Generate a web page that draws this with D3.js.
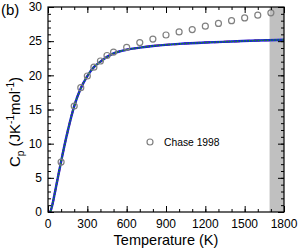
<!DOCTYPE html>
<html>
<head>
<meta charset="utf-8">
<script src="https://cdn.jsdelivr.net/npm/d3@7"></script>
<style>
  body { margin: 0; background: #fff; }
  text { font-family: "Liberation Sans", Arial, sans-serif; fill: #000; }
</style>
</head>
<body>
<svg id="chart" width="300" height="250"></svg>
<script>
// model curve
var modelT  = [0, 15, 30, 50, 75, 100, 150, 200, 250, 300, 350, 400, 450, 500, 600, 700, 800, 1000, 1200, 1400, 1600, 1800];
var modelCp = [0, 0, 0.8, 2.6, 5.0, 7.4, 11.8, 15.5, 18.1, 19.9, 21.2, 22.0, 22.7, 23.2, 23.75, 24.05, 24.3, 24.6, 24.8, 24.95, 25.1, 25.2];

// Chase 1998 points
var chaseT  = [100, 200, 250, 300, 350, 400, 450, 500, 600, 700, 800, 900, 1000, 1100, 1200, 1300, 1400, 1500, 1600, 1700];
var chaseCp = [7.3, 15.5, 18.2, 19.9, 21.2, 22.1, 22.9, 23.4, 24.1, 24.8, 25.3, 25.9, 26.35, 26.7, 27.2, 27.6, 28.0, 28.4, 28.8, 29.15];

var xTicks = [0, 300, 600, 900, 1200, 1500, 1800];
var yTicks = [0, 5, 10, 15, 20, 25, 30];
var band = [1690, 1800];

var svg = d3.select("#chart");
var m = {left: 48, right: 284, top: 7, bottom: 212};

var x = d3.scaleLinear().domain([0, 1800]).range([m.left, m.right]);
var y = d3.scaleLinear().domain([0, 30]).range([m.bottom, m.top]);

// grey band
svg.append("rect")
  .attr("x", x(band[0])).attr("y", m.top)
  .attr("width", x(band[1]) - x(band[0]))
  .attr("height", m.bottom - m.top)
  .attr("fill", "#c0c0c0");

svg.append("clipPath").attr("id", "clip")
  .append("rect").attr("x", m.left).attr("y", m.top)
  .attr("width", m.right - m.left).attr("height", m.bottom - m.top);

var pts = modelT.map(function (t, i) { return [t, modelCp[i]]; });
var line = d3.line()
  .x(function (d) { return x(d[0]); })
  .y(function (d) { return y(d[1]); })
  .curve(d3.curveMonotoneX);

var g = svg.append("g").attr("clip-path", "url(#clip)");
g.append("path").datum(pts).attr("d", line)
  .attr("fill", "none").attr("stroke", "#e03030").attr("stroke-width", 2).attr("stroke-dasharray", "6,4");
g.append("path").datum(pts).attr("d", line)
  .attr("fill", "none").attr("stroke", "#1a1adc").attr("stroke-width", 2.4);
g.append("path").datum(pts).attr("d", line)
  .attr("fill", "none").attr("stroke", "#1e9a1e").attr("stroke-width", 1.4).attr("stroke-dasharray", "1.5,1.5");

// Chase circles
svg.selectAll("circle.chase").data(chaseT).enter().append("circle")
  .attr("class", "chase")
  .attr("cx", function (d) { return x(d); })
  .attr("cy", function (d, i) { return y(chaseCp[i]); })
  .attr("r", 3)
  .attr("fill", "none").attr("stroke", "#808080").attr("stroke-width", 1.2);

// inward ticks on all four sides
var xMinor = d3.range(0, 1801, 100);
var yMinor = d3.range(0, 31, 1);
var h = m.bottom - m.top, w = m.right - m.left;

function side(axisFn, scale, vals, size, tr) {
  svg.append("g").attr("transform", tr)
    .call(axisFn(scale).tickValues(vals).tickSize(size).tickFormat(""));
}
side(d3.axisTop, x, xMinor, 3, "translate(0," + m.bottom + ")");
side(d3.axisTop, x, xTicks, 6, "translate(0," + m.bottom + ")");
side(d3.axisBottom, x, xMinor, 3, "translate(0," + m.top + ")");
side(d3.axisBottom, x, xTicks, 6, "translate(0," + m.top + ")");
side(d3.axisRight, y, yMinor, 3, "translate(" + m.left + ",0)");
side(d3.axisRight, y, yTicks, 6, "translate(" + m.left + ",0)");
side(d3.axisLeft, y, yMinor, 3, "translate(" + m.right + ",0)");
side(d3.axisLeft, y, yTicks, 6, "translate(" + m.right + ",0)");
svg.selectAll(".domain").remove();
svg.selectAll(".tick line").attr("stroke", "#000").attr("stroke-width", 1);

svg.append("rect")
  .attr("x", m.left).attr("y", m.top).attr("width", w).attr("height", h)
  .attr("fill", "none").attr("stroke", "#000").attr("stroke-width", 1.2);

// tick labels
svg.selectAll("text.xt").data(xTicks).enter().append("text")
  .attr("x", function (d) { return x(d); }).attr("y", 228)
  .attr("text-anchor", "middle").attr("font-size", 12)
  .text(function (d) { return d; });
svg.selectAll("text.yt").data(yTicks).enter().append("text")
  .attr("x", 42).attr("y", function (d) { return y(d) + 4.3; })
  .attr("text-anchor", "end").attr("font-size", 12)
  .text(function (d) { return d; });

// axis labels
svg.append("text").attr("x", 166).attr("y", 245)
  .attr("text-anchor", "middle").attr("font-size", 14.5)
  .text("Temperature (K)");

var yl = svg.append("text")
  .attr("transform", "translate(20,122) rotate(-90)")
  .attr("text-anchor", "middle").attr("font-size", 15);
yl.append("tspan").text("C");
yl.append("tspan").attr("font-size", 10).attr("dy", 3.5).text("p");
yl.append("tspan").attr("dy", -3.5).text(" (JK");
yl.append("tspan").attr("font-size", 10).attr("dy", -6).text("-1");
yl.append("tspan").attr("dy", 6).text("mol");
yl.append("tspan").attr("font-size", 10).attr("dy", -6).text("-1");
yl.append("tspan").attr("dy", 6).text(")");

// legend
svg.append("circle").attr("cx", 150).attr("cy", 142).attr("r", 3)
  .attr("fill", "none").attr("stroke", "#808080").attr("stroke-width", 1.2);
svg.append("text").attr("x", 164).attr("y", 146).attr("font-size", 10.3).text("Chase 1998");

// panel label
svg.append("text").attr("x", 1).attr("y", 15).attr("font-size", 15).text("(b)");
</script>
</body>
</html>
